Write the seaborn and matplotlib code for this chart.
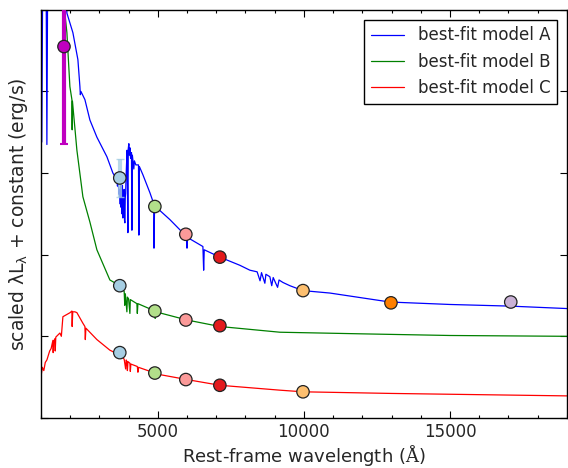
import numpy as np
import pandas as pd
import matplotlib
matplotlib.use('Agg')
import matplotlib.pyplot as plt
import seaborn as sns
from matplotlib.ticker import MultipleLocator

# --- best-fit model spectra (rest wavelength in Angstrom, scaled lambda*L_lambda + offset) ---
wave_A = [1000, 1030, 1060, 1180, 1205, 1230, 1850, 1890, 2095, 2266, 2335, 2350, 2370,
          2506, 2677, 2916, 3259, 3464, 3600, 3620, 3650, 3670, 3700, 3715, 3730, 3745,
          3760, 3775, 3790, 3805, 3820, 3835, 3850, 3862, 3874, 3887, 3900, 3915, 3930,
          3950, 3977, 3990, 4010, 4030, 4046, 4070, 4100, 4114, 4130, 4180, 4200, 4250,
          4340, 4353, 4370, 4490, 4730, 4867, 4870, 4890, 5414, 5990, 6000, 6020, 6544,
          6570, 6590, 7125, 7810, 8152, 8400, 8500, 8550, 8665, 8700, 8836, 8900, 8950,
          9100, 9150, 9281, 9521, 9966, 10890, 12943, 15000, 17049, 19000]
flux_A = [5.30, 3.38, 5.30, 5.30, 3.35, 5.30, 5.30, 4.96, 4.72, 4.39, 4.06, 3.96, 4.00,
          3.90, 3.65, 3.44, 3.20, 3.00, 2.92, 2.84, 2.88, 2.74, 2.80, 2.62, 2.90, 2.58,
          2.70, 2.50, 2.85, 2.45, 2.55, 2.78, 2.80, 2.42, 2.39, 2.70, 2.75, 2.95, 3.10,
          3.28, 2.27, 3.30, 3.36, 3.22, 3.31, 3.18, 3.25, 2.30, 3.22, 3.05, 3.15, 3.10,
          3.10, 2.24, 3.08, 2.98, 2.76, 2.62, 2.08, 2.60, 2.43, 2.22, 2.08, 2.21, 2.10,
          1.81, 2.06, 1.97, 1.87, 1.81, 1.79, 1.68, 1.78, 1.65, 1.76, 1.73, 1.62, 1.72,
          1.60, 1.69, 1.66, 1.62, 1.56, 1.53, 1.42, 1.39, 1.37, 1.34]

wave_B = [1750, 1890, 1992, 2061, 2070, 2080, 2232, 2437, 2677, 2916, 3361, 3703, 3850,
          3870, 3890, 3900, 3943, 3960, 4000, 4046, 4060, 4285, 4300, 4320, 4901, 4910,
          4930, 5996, 7125, 9179, 12000, 15000, 19000]
flux_B = [5.20, 4.72, 4.06, 3.90, 3.53, 3.88, 3.28, 2.71, 2.40, 2.06, 1.69, 1.62, 1.55,
          1.38, 1.52, 1.48, 1.30, 1.48, 1.46, 1.28, 1.45, 1.40, 1.28, 1.40, 1.31, 1.22,
          1.30, 1.20, 1.12, 1.05, 1.03, 1.01, 1.00]

wave_C = [1000, 1050, 1100, 1150, 1205, 1300, 1350, 1411, 1420, 1440, 1479, 1490, 1510,
          1650, 1700, 1753, 2000, 2061, 2070, 2090, 2163, 2232, 2437, 2506, 2520, 2540,
          2916, 3361, 3703, 3850, 3900, 3920, 3943, 3960, 3980, 4046, 4060, 4080, 4300,
          4320, 4340, 4901, 4910, 4930, 5996, 7125, 9179, 9966, 13000, 19000]
flux_C = [0.50, 0.62, 0.58, 0.68, 0.71, 0.82, 0.85, 0.95, 0.80, 0.94, 0.97, 0.82, 0.99,
          1.04, 1.00, 1.24, 1.29, 1.31, 1.12, 1.30, 1.30, 1.29, 1.16, 1.12, 0.96, 1.10,
          0.96, 0.83, 0.77, 0.72, 0.60, 0.71, 0.69, 0.58, 0.69, 0.67, 0.57, 0.66, 0.63,
          0.56, 0.62, 0.55, 0.48, 0.54, 0.47, 0.40, 0.34, 0.32, 0.30, 0.27]

# --- photometry ---
phot_wave_A = [1790, 3700, 4900, 5960, 7125, 9970, 12980, 17080]
phot_flux_A = [4.55, 2.94, 2.59, 2.25, 1.97, 1.56, 1.41, 1.42]
phot_col_A = ['#bf00bf', '#a6cee3', '#b2df8a', '#fb9a99', '#e31a1c', '#fdbf6f', '#ff7f00', '#cab2d6']

phot_wave_B = [3700, 4900, 5960, 7125]
phot_flux_B = [1.62, 1.31, 1.20, 1.13]
phot_col_B = ['#a6cee3', '#b2df8a', '#fb9a99', '#e31a1c']

phot_wave_C = [3700, 4900, 5960, 7125, 9970]
phot_flux_C = [0.80, 0.55, 0.47, 0.40, 0.32]
phot_col_C = ['#a6cee3', '#b2df8a', '#fb9a99', '#e31a1c', '#fdbf6f']

# error bars on model A photometry (only the visible ones)
fuv_err = 1.2
u_err = 0.23

sns.set_theme(style='ticks')
plt.rcParams['font.family'] = ['DejaVu Sans']
plt.rcParams['mathtext.fontset'] = 'custom'
plt.rcParams['mathtext.rm'] = 'DejaVu Serif'
plt.rcParams['mathtext.sf'] = 'DejaVu Sans'
plt.rcParams['mathtext.it'] = 'DejaVu Sans:italic'

fig = plt.figure(figsize=(5.68, 4.68), dpi=100)
ax = fig.add_axes([0.072, 0.107, 0.926, 0.872])

spectra = [(wave_A, flux_A, 'blue', 'best-fit model A'),
           (wave_B, flux_B, 'green', 'best-fit model B'),
           (wave_C, flux_C, 'red', 'best-fit model C')]
for w, f, c, lab in spectra:
    df = pd.DataFrame({'wave': w, 'flux': f})
    sns.lineplot(data=df, x='wave', y='flux', color=c, lw=0.9, sort=False,
                 estimator=None, ax=ax, label=lab)

# error bars
ax.errorbar(phot_wave_A[0], phot_flux_A[0], yerr=fuv_err, fmt='none', ecolor='#bf00bf',
            elinewidth=3, capsize=3, capthick=1.5, zorder=3)
ax.errorbar(phot_wave_A[1], phot_flux_A[1], yerr=u_err, fmt='none', ecolor='#a6cee3',
            elinewidth=3, capsize=3, capthick=1, alpha=0.8, zorder=3)

for w, f, cols in [(phot_wave_A, phot_flux_A, phot_col_A),
                   (phot_wave_B, phot_flux_B, phot_col_B),
                   (phot_wave_C, phot_flux_C, phot_col_C)]:
    dfp = pd.DataFrame({'wave': w, 'flux': f, 'col': cols})
    sns.scatterplot(data=dfp, x='wave', y='flux', hue='col', palette=dict(zip(cols, cols)),
                    s=80, edgecolor='#222222', linewidth=0.9, legend=False, zorder=4, ax=ax)

ax.set_xlim(1000, 19000)
ax.set_ylim(0, 5)
ax.xaxis.set_major_locator(MultipleLocator(5000))
ax.xaxis.set_minor_locator(MultipleLocator(1000))
ax.yaxis.set_major_locator(MultipleLocator(1))
ax.set_yticklabels([])
ax.tick_params(which='both', direction='in', top=True, right=True, color='black')
ax.tick_params(which='major', length=5, width=0.8, labelsize=12, pad=4)
ax.tick_params(which='minor', length=2.5, width=0.8)
for sp in ax.spines.values():
    sp.set_color('black')
    sp.set_linewidth(1)

ax.set_xlabel(r'Rest-frame wavelength ($\mathrm{\AA}$)', fontsize=13, labelpad=1)
ax.set_ylabel(r'scaled $\mathsf{\lambda L_\lambda}$ + constant (erg/s)', fontsize=13.5, labelpad=4)

leg = ax.legend(loc='upper right', fontsize=12, frameon=True, fancybox=False,
                edgecolor='black', framealpha=1, borderaxespad=0.6, handlelength=2.0)
leg.get_frame().set_linewidth(1)

fig.savefig('out.png', dpi=100)
